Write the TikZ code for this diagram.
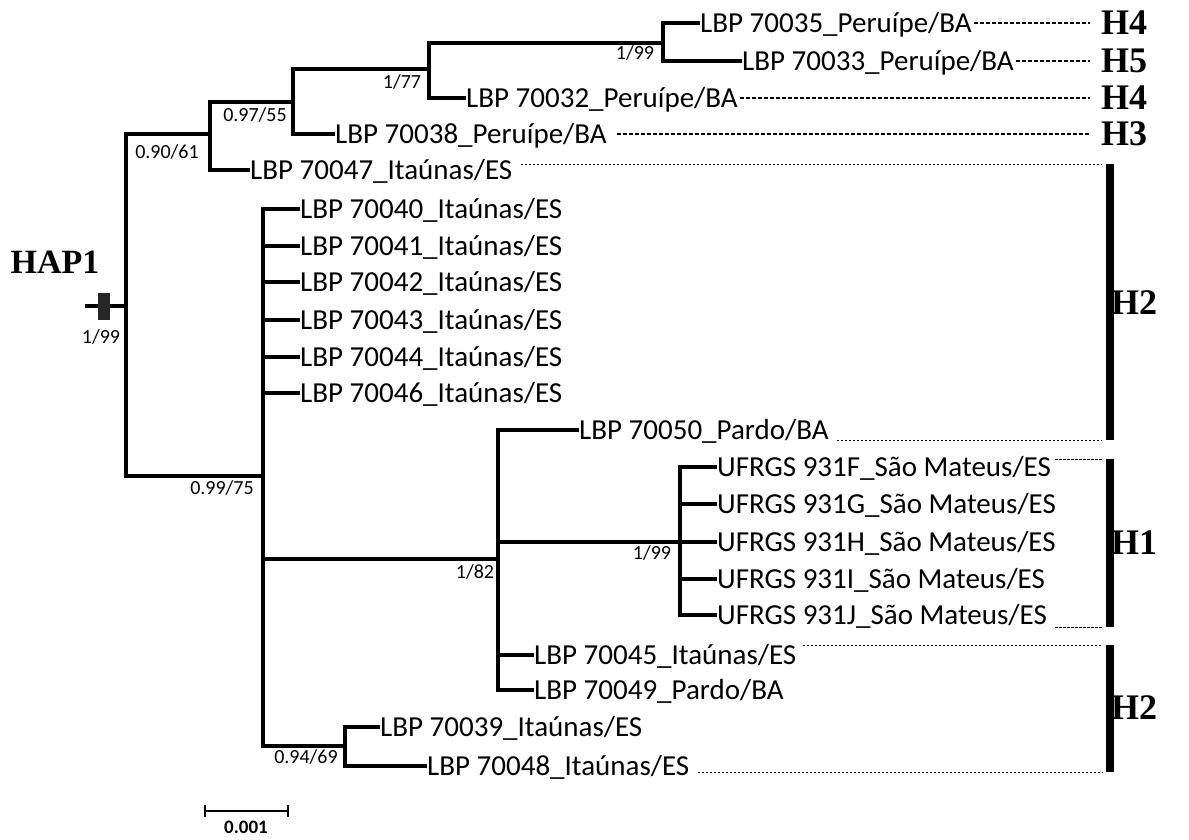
\documentclass[tikz,border=0pt]{standalone}
\usepackage{fontspec}
\setmainfont{Carlito}
\newfontfamily\hapfont{Liberation Serif}
\usetikzlibrary{positioning,calc}

\tikzset{
  branch/.style={line width=3.1pt,line cap=rect},
  taxon/.style={font=\fontsize{29}{31}\selectfont,anchor=west,inner sep=2pt,text height=18.6pt,text depth=0pt},
  support/.style={font=\fontsize{20}{22}\selectfont,inner sep=0pt},
  guide/.style={line width=1pt,dash pattern=on 2.6pt off 1.4pt},
  guidetop/.style={line width=1.5pt,dash pattern=on 4pt off 2pt},
  hapbar/.style={line width=8pt},
  haplabel/.style={font=\hapfont\bfseries\fontsize{36}{38}\selectfont,inner sep=0pt}
}

\begin{document}
\begin{tikzpicture}[x=1pt,y=-1pt]
\useasboundingbox[fill=white] (0,0) rectangle (1189,839);
% tree nodes
\coordinate (stub) at (87,306);
\coordinate (root) at (126,306);
\coordinate (n9061) at (210,134);
\coordinate (n9755) at (293,102);
\coordinate (n177) at (429,69);
\coordinate (n199a) at (663,43);
\coordinate (n9975) at (263,476);
\coordinate (n182) at (498,559);
\coordinate (n199b) at (680,542);
\coordinate (n9469) at (345,746);
% taxa
\node[taxon] (t35) at (698,23) {LBP 70035\_Peruípe/BA};
\node[taxon] (t33) at (740,61) {LBP 70033\_Peruípe/BA};
\node[taxon] (t32) at (464,98) {LBP 70032\_Peruípe/BA};
\node[taxon] (t38) at (333,134) {LBP 70038\_Peruípe/BA};
\node[taxon] (t47) at (248,170) {LBP 70047\_Itaúnas/ES};
\node[taxon] (t40) at (298,209) {LBP 70040\_Itaúnas/ES};
\node[taxon] (t41) at (298,246) {LBP 70041\_Itaúnas/ES};
\node[taxon] (t42) at (298,282) {LBP 70042\_Itaúnas/ES};
\node[taxon] (t43) at (298,320) {LBP 70043\_Itaúnas/ES};
\node[taxon] (t44) at (298,357) {LBP 70044\_Itaúnas/ES};
\node[taxon] (t46) at (298,393) {LBP 70046\_Itaúnas/ES};
\node[taxon] (t50) at (577,430) {LBP 70050\_Pardo/BA};
\node[taxon] (tF) at (715,467) {UFRGS 931F\_São Mateus/ES};
\node[taxon] (tG) at (715,504) {UFRGS 931G\_São Mateus/ES};
\node[taxon] (tH) at (715,542) {UFRGS 931H\_São Mateus/ES};
\node[taxon] (tI) at (715,579) {UFRGS 931I\_São Mateus/ES};
\node[taxon] (tJ) at (715,615) {UFRGS 931J\_São Mateus/ES};
\node[taxon] (t45) at (532,655) {LBP 70045\_Itaúnas/ES};
\node[taxon] (t49) at (532,690) {LBP 70049\_Pardo/BA};
\node[taxon] (t39) at (378,727) {LBP 70039\_Itaúnas/ES};
\node[taxon] (t48) at (425,766) {LBP 70048\_Itaúnas/ES};
% branches
\draw[branch] (stub) -- (root);
\draw[branch] (root) |- (n9061);
\draw[branch] (root) |- (n9975);
\draw[branch] (n9061) |- (n9755);
\draw[branch] (n9061) |- (t47.west);
\draw[branch] (n9755) |- (n177);
\draw[branch] (n9755) |- (t38.west);
\draw[branch] (n177) |- (n199a);
\draw[branch] (n177) |- (t32.west);
\draw[branch] (n199a) |- (t35.west);
\draw[branch] (n199a) |- (t33.west);
\foreach \t in {t40,t41,t42,t43,t44,t46}
  \draw[branch] (n9975) |- (\t.west);
\draw[branch] (n9975) |- (n182);
\draw[branch] (n9975) |- (n9469);
\draw[branch] (n182) |- (t50.west);
\draw[branch] (n182) |- (n199b);
\draw[branch] (n182) |- (t45.west);
\draw[branch] (n182) |- (t49.west);
\foreach \t in {tF,tG,tH,tI,tJ}
  \draw[branch] (n199b) |- (\t.west);
\draw[branch] (n9469) |- (t39.west);
\draw[branch] (n9469) |- (t48.west);
% root mark
\node[fill=black!85,minimum width=12pt,minimum height=27pt,inner sep=0pt] (mark) at (104,306) {};
\node[haplabel,font=\hapfont\bfseries\fontsize{34}{36}\selectfont] (hap1) at (55,262) {HAP1};
% support values
\node[support] (s199r) at (101,337) {1/99};
\node[support] (s9061) at (167,152) {0.90/61};
\node[support] (s9755) at (255,115) {0.97/55};
\node[support] (s177) at (402,82) {1/77};
\node[support] (s199a) at (635,53) {1/99};
\node[support] (s9975) at (222,488) {0.99/75};
\node[support] (s182) at (475,572) {1/82};
\node[support] (s199b) at (652,553) {1/99};
\node[support] (s9469) at (306,757) {0.94/69};
% haplotype bars
\coordinate (b2a) at (1110,164);
\coordinate (b2b) at (1110,440);
\coordinate (b1a) at (1110,459);
\coordinate (b1b) at (1110,627);
\coordinate (b2c) at (1110,645);
\coordinate (b2d) at (1110,772);
\draw[hapbar] (b2a) -- (b2b);
\draw[hapbar] (b1a) -- (b1b);
\draw[hapbar] (b2c) -- (b2d);
% guide lines
\foreach \t in {t35,t33,t32}
  \draw[guidetop] (\t.east) -- (\t.east -| 1090,0);
\draw[guidetop] ($(t38.east)+(8,0)$) -- (t38.east -| 1090,0);
\draw[guide] ($(t47.east |- b2a)+(6,0)$) -- ($(b2a)+(-8,0)$);
\draw[guide] ($(t50.east |- b2b)+(6,0)$) -- ($(b2b)+(-8,0)$);
\draw[guide] ($(tF.east |- b1a)+(2,0)$) -- ($(b1a)+(-8,0)$);
\draw[guide] ($(tJ.east |- b1b)+(6,0)$) -- ($(b1b)+(-8,0)$);
\draw[guide] ($(t45.east |- b2c)+(4,0)$) -- ($(b2c)+(-8,0)$);
\draw[guide] ($(t48.east |- b2d)+(6,0)$) -- ($(b2d)+(-8,0)$);
% haplotype labels
\node[haplabel] (h4a) at (1124,23) {H4};
\node[haplabel] (h5) at (1124,61) {H5};
\node[haplabel] (h4b) at (1124,98) {H4};
\node[haplabel] (h3) at (1124,134) {H3};
\node[haplabel] (h2a) at (1134,303) {H2};
\node[haplabel] (h1) at (1134,543) {H1};
\node[haplabel] (h2b) at (1134,708) {H2};
% scale bar
\coordinate (sbl) at (205,811);
\coordinate (sbr) at (288,811);
\draw[line width=2.6pt] (sbl) -- (sbr);
\draw[line width=2.6pt] ($(sbl)+(0,-6)$) -- ($(sbl)+(0,6)$);
\draw[line width=2.6pt] ($(sbr)+(0,-6)$) -- ($(sbr)+(0,6)$);
\node[font=\bfseries\fontsize{19}{21}\selectfont,inner sep=0pt] (sblabel) at (246,827) {0.001};
\end{tikzpicture}
\end{document}
